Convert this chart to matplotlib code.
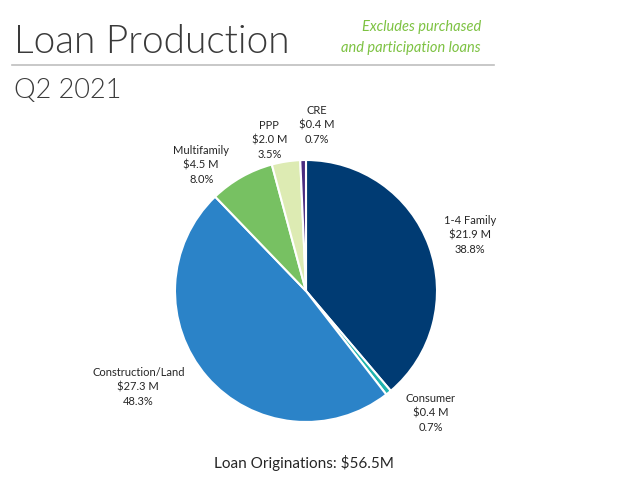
import matplotlib
matplotlib.use("Agg")
import matplotlib.pyplot as plt
from matplotlib.lines import Line2D

plt.rcParams['font.family'] = ['Lato', 'DejaVu Sans']

# Q2 2021 loan production, $ millions
categories = ['1-4 Family', 'Consumer', 'Construction/Land', 'Multifamily', 'PPP', 'CRE']
amounts = [21.9, 0.4, 27.3, 4.5, 2.0, 0.4]
shares = [38.8, 0.7, 48.3, 8.0, 3.5, 0.7]
total_label = 'Loan Originations: $56.5M'
note_lines = ['Excludes purchased', 'and participation loans']

colors = ['#003b73', '#1fb3ae', '#2b83c8', '#77c162', '#ddebb3', '#4a2c80']
# label offsets (in pie radius units) from the centre
label_pos = [(1.25, 0.43), (0.95, -0.93), (-1.28, -0.73), (-0.80, 0.96), (-0.28, 1.15), (0.08, 1.27)]

fig = plt.figure(figsize=(6.4, 4.79), dpi=100)

# header
fig.text(14 / 640, 1 - 53 / 479, 'Loan Production', fontsize=28, fontweight=300,
         color='#3a3a3a', ha='left', va='baseline')
fig.text(14 / 640, 1 - 98 / 479, 'Q2 2021', fontsize=19.5, fontweight=300,
         color='#3a3a3a', ha='left', va='baseline')
for i, line in enumerate(note_lines):
    fig.text(481 / 640, 1 - (31 + 21 * i) / 479, line, fontsize=10.5,
             style='italic', color='#7dc242', ha='right', va='baseline')
fig.add_artist(Line2D([12 / 640, 494 / 640], [1 - 65 / 479, 1 - 65 / 479],
                      color='#bfbfbf', lw=1.2))

ax = fig.add_axes([(306 - 131) / 640, (479 - 291 - 131) / 479, 262 / 640, 262 / 479])
wedges, _ = ax.pie(shares, colors=colors, startangle=90, counterclock=False,
                   wedgeprops=dict(edgecolor='white', linewidth=1.5))
ax.set_xlim(-1, 1)
ax.set_ylim(-1, 1)
ax.set_aspect('equal')
ax.axis('off')

for name, amt, pct, (x, y) in zip(categories, amounts, shares, label_pos):
    ax.text(x, y, f'{name}\n${amt:.1f} M\n{pct:.1f}%', ha='center', va='center',
            fontsize=8, color='#262626', linespacing=1.4)

fig.text(304 / 640, 1 - 463 / 479, total_label, fontsize=11, color='#262626',
         ha='center', va='center')

fig.savefig('out.png', dpi=100)
